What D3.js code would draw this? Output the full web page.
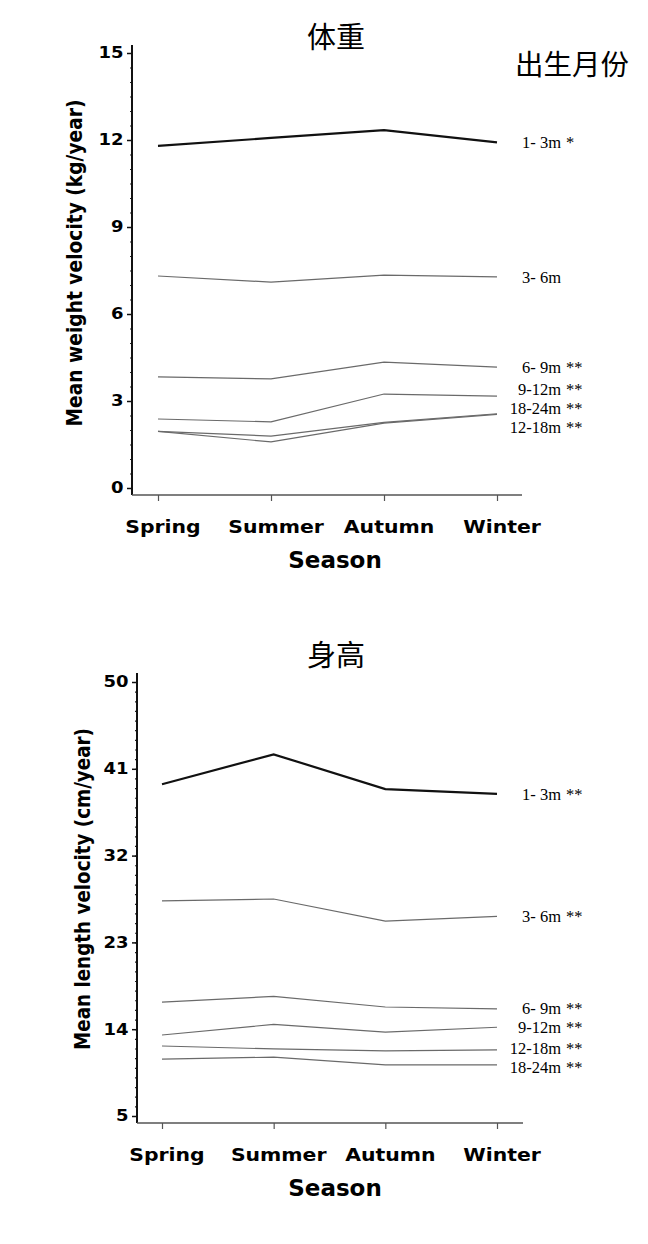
<!DOCTYPE html>
<html>
<head>
<meta charset="utf-8">
<script src="https://cdn.jsdelivr.net/npm/d3@7"></script>
<style>
  html, body { margin: 0; padding: 0; background: #fff; }
</style>
</head>
<body>
<div id="chart"></div>
<script>
const seasons = ["Spring", "Summer", "Autumn", "Winter"]
const ageGroups = ["1- 3m", "3- 6m", "6- 9m", "9-12m", "12-18m", "18-24m"]

// mean weight velocity, kg/year, one row per age group
const weightVelocity = [
  [11.8, 12.07, 12.34, 11.92],
  [7.31, 7.1, 7.34, 7.28],
  [3.83, 3.76, 4.34, 4.17],
  [2.38, 2.28, 3.24, 3.17],
  [1.95, 1.59, 2.24, 2.54],
  [1.95, 1.79, 2.26, 2.56]
]
const weightSig = ["*", "", "**", "**", "**", "**"]
const weightTicks = [0, 3, 6, 9, 12, 15]

// mean length velocity, cm/year
const lengthVelocity = [
  [39.4, 42.5, 38.9, 38.4],
  [27.3, 27.5, 25.2, 25.7],
  [16.8, 17.4, 16.3, 16.1],
  [13.4, 14.5, 13.7, 14.2],
  [12.26, 11.95, 11.75, 11.85],
  [10.9, 11.1, 10.3, 10.3]
]
const lengthSig = ["**", "**", "**", "**", "**", "**"]
const lengthTicks = [5, 14, 23, 32, 41, 50]

const width = 648, height = 1244
const svg = d3.select("#chart").append("svg")
  .attr("width", width)
  .attr("height", height)

const boldSans = "'DejaVu Sans', 'Liberation Sans', sans-serif"
const serif = "'Liberation Serif', 'DejaVu Serif', serif"
const cjk = "'Noto Sans CJK SC', 'Noto Sans', sans-serif"

// push labels apart so they keep at least `gap` px between them
function relax(targets, gap) {
  const pos = targets.slice()
  for (let it = 0; it < 300; it++) {
    let moved = false
    for (let i = 1; i < pos.length; i++) {
      const d = pos[i] - pos[i - 1]
      if (d < gap - 0.01) {
        const s = (gap - d) / 2
        pos[i - 1] -= s
        pos[i] += s
        moved = true
      }
    }
    if (!moved) break
  }
  return pos
}

function drawChart(cfg) {
  const x = d3.scalePoint().domain(seasons).range(cfg.xRange)
  const y = d3.scaleLinear().domain(cfg.yDomain).range(cfg.yRange)
  const g = svg.append("g")

  // title
  g.append("text")
    .attr("x", 336).attr("y", cfg.titleY)
    .attr("text-anchor", "middle")
    .attr("font-family", cjk).attr("font-size", 29)
    .text(cfg.title)

  // minor ticks
  g.append("g")
    .attr("transform", `translate(${cfg.axisX},0)`)
    .call(d3.axisLeft(y).tickValues(d3.range(cfg.yDomain[0], cfg.yDomain[1] + 0.01, cfg.minorStep))
      .tickSize(2).tickFormat(""))
    .call(a => a.select(".domain").remove())
    .selectAll("line").attr("stroke", "#222").attr("stroke-width", 1.2)

  // major ticks + labels
  const ya = g.append("g")
    .attr("transform", `translate(${cfg.axisX},0)`)
    .call(d3.axisLeft(y).tickValues(cfg.yTicks).tickSize(5).tickPadding(2).tickFormat(d3.format("d")))
  ya.select(".domain").remove()
  ya.selectAll("line").attr("stroke", "#111").attr("stroke-width", 1.5)
  ya.selectAll("text")
    .attr("font-family", boldSans).attr("font-weight", "bold")
    .attr("font-size", 15).attr("fill", "#000")
    .attr("transform", "scale(1.2,1)")

  // y axis line
  g.append("line")
    .attr("x1", cfg.axisX).attr("x2", cfg.axisX)
    .attr("y1", cfg.axisTop).attr("y2", cfg.axisY)
    .attr("stroke", "#111").attr("stroke-width", 2)

  // x axis
  const xa = g.append("g")
    .attr("transform", `translate(0,${cfg.axisY})`)
    .call(d3.axisBottom(x).tickSize(6).tickFormat(""))
  xa.select(".domain").remove()
  xa.selectAll("line").attr("stroke", "#555").attr("stroke-width", 1.2)
  g.append("line")
    .attr("x1", cfg.axisX).attr("x2", cfg.axisRight)
    .attr("y1", cfg.axisY).attr("y2", cfg.axisY)
    .attr("stroke", "#555").attr("stroke-width", 1.4)

  g.append("g").selectAll("text")
    .data(seasons)
    .join("text")
    .attr("transform", d => `translate(${x(d) + 5},${cfg.axisY + 38}) scale(1.2,1)`)
    .attr("text-anchor", "middle")
    .attr("font-family", boldSans).attr("font-weight", "bold")
    .attr("font-size", 17)
    .text(d => d)

  g.append("text")
    .attr("x", 335).attr("y", cfg.axisY + 73)
    .attr("text-anchor", "middle")
    .attr("font-family", boldSans).attr("font-weight", "bold")
    .attr("font-size", 23)
    .text("Season")

  // y axis title
  g.append("text")
    .attr("transform", `translate(${cfg.yTitleX},${cfg.yTitleY}) rotate(-90)`)
    .attr("text-anchor", "middle")
    .attr("font-family", boldSans).attr("font-weight", "bold")
    .attr("font-size", 21)
    .attr("textLength", cfg.yTitleLen).attr("lengthAdjust", "spacingAndGlyphs")
    .text(cfg.yTitle)

  // lines
  const line = d3.line()
    .x((v, i) => x(seasons[i]))
    .y(v => y(v))

  g.append("g").selectAll("path")
    .data(cfg.values)
    .join("path")
    .attr("d", d => line(d))
    .attr("fill", "none")
    .attr("stroke", (d, i) => i === 0 ? "#111" : "#6a6a6a")
    .attr("stroke-width", (d, i) => i === 0 ? 2.2 : 1.2)

  // end labels, ordered top to bottom by winter value
  const order = d3.range(ageGroups.length).sort((a, b) => cfg.values[b][3] - cfg.values[a][3])
  const placed = relax(order.map(i => y(cfg.values[i][3])), 19)
  const labels = g.append("g").selectAll("g")
    .data(order)
    .join("g")
    .attr("transform", (d, k) => `translate(561,${placed[k]})`)

  labels.append("text")
    .attr("text-anchor", "end").attr("dy", "0.35em")
    .attr("font-family", serif).attr("font-size", 16.5)
    .text(i => ageGroups[i])

  labels.append("text")
    .attr("x", 5).attr("dy", "0.35em")
    .attr("font-family", serif).attr("font-size", 16.5)
    .text(i => cfg.sig[i])
}

drawChart({
  title: "体重", titleY: 48,
  yTitle: "Mean weight velocity (kg/year)",
  yTitleX: 82, yTitleY: 263, yTitleLen: 327,
  values: weightVelocity, sig: weightSig,
  yDomain: [0, 15], yRange: [488, 53], yTicks: weightTicks, minorStep: 0.5,
  xRange: [158, 497],
  axisX: 132, axisTop: 45, axisY: 495, axisRight: 522
})

drawChart({
  title: "身高", titleY: 666,
  yTitle: "Mean length velocity (cm/year)",
  yTitleX: 90, yTitleY: 889, yTitleLen: 322,
  values: lengthVelocity, sig: lengthSig,
  yDomain: [5, 50], yRange: [1116, 682], yTicks: lengthTicks, minorStep: 1,
  xRange: [162, 497],
  axisX: 137, axisTop: 673, axisY: 1123, axisRight: 523
})

svg.append("text")
  .attr("x", 572).attr("y", 75)
  .attr("text-anchor", "middle")
  .attr("font-family", cjk).attr("font-size", 28.5)
  .text("出生月份")
</script>
</body>
</html>
